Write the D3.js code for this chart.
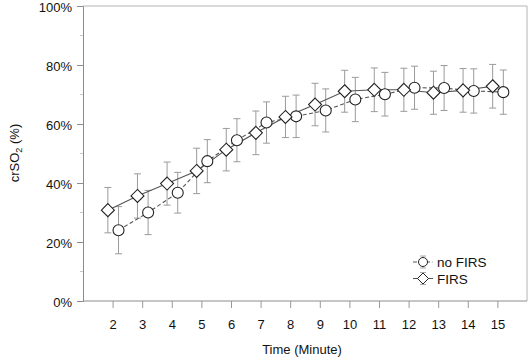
<!DOCTYPE html>
<html>
<head>
<meta charset="utf-8">
<script src="https://cdn.jsdelivr.net/npm/d3@7"></script>
<style>
  body { margin: 0; background: #fff; }
  text { font-family: "Liberation Sans", Arial, sans-serif; fill: #111; }
</style>
</head>
<body>
<svg id="chart" width="529" height="359"></svg>
<script>
// data
const minutes = [2, 3, 4, 5, 6, 7, 8, 9, 10, 11, 12, 13, 14, 15];
const noFirsMean = [24.0, 30.0, 36.7, 47.4, 54.5, 60.5, 62.6, 64.6, 68.3, 70.1, 72.3, 72.2, 71.2, 70.8];
const noFirsSD   = [8.0, 7.5, 6.9, 7.3, 7.3, 7.0, 7.2, 7.3, 7.5, 7.4, 7.3, 7.6, 7.5, 7.5];
const firsMean   = [30.8, 35.6, 39.8, 44.1, 51.3, 57.0, 62.4, 66.6, 71.1, 71.6, 71.6, 70.6, 71.4, 72.8];
const firsSD     = [7.7, 7.5, 7.3, 7.7, 7.2, 7.4, 7.0, 7.2, 7.1, 7.4, 7.3, 7.3, 7.4, 7.4];
const yTicks = [0, 20, 40, 60, 80, 100];
const yMinor = [10, 30, 50, 70, 90];

const svg = d3.select("#chart");
const x = d3.scaleLinear().domain([1, 16]).range([83, 527]);
const y = d3.scaleLinear().domain([0, 100]).range([301, 6]);

// series (dodged a little on x like the original)
const series = [
  {name: "no FIRS", mean: noFirsMean, sd: noFirsSD, dx: 0.2, dash: "4,2.5", shape: "circle"},
  {name: "FIRS", mean: firsMean, sd: firsSD, dx: -0.16, dash: null, shape: "diamond"}
];
series.forEach(s => {
  s.pts = minutes.map((m, i) => ({m: m + s.dx, v: s.mean[i], sd: s.sd[i]}));
});

// frame
svg.append("line").attr("x1", x(1)).attr("x2", x(16)).attr("y1", y(100)).attr("y2", y(100))
  .attr("stroke", "#b5b5b5");
svg.append("line").attr("x1", x(16)).attr("x2", x(16)).attr("y1", y(100)).attr("y2", y(0))
  .attr("stroke", "#b5b5b5");

// y axis
const yAxis = svg.append("g").attr("transform", `translate(${x(1)},0)`)
  .call(d3.axisLeft(y).tickValues(yTicks).tickSize(6).tickPadding(5).tickFormat(d => d + "%"));
yAxis.select(".domain").attr("stroke", "#8c8c8c");
yAxis.selectAll(".tick line").attr("stroke", "#8c8c8c");
yAxis.selectAll("text").style("font-size", "13px").attr("font-family", null).attr("dy", "0.42em");
svg.append("g").selectAll("line").data(yMinor).enter().append("line")
  .attr("x1", x(1) - 3).attr("x2", x(1))
  .attr("y1", d => y(d)).attr("y2", d => y(d))
  .attr("stroke", "#c8c8c8");

// x axis
const xAxis = svg.append("g").attr("transform", `translate(0,${y(0)})`)
  .call(d3.axisBottom(x).tickValues(minutes).tickSize(7).tickPadding(12).tickFormat(d3.format("d")));
xAxis.select(".domain").attr("stroke", "#8c8c8c").attr("d", `M${x(1)},0H${x(16)}`);
xAxis.selectAll(".tick line").attr("stroke", "#9a9a9a");
xAxis.selectAll("text").style("font-size", "13px").attr("font-family", null);

// axis titles
svg.append("text")
  .attr("x", (x(1) + x(16)) / 2 - 3).attr("y", 354)
  .attr("text-anchor", "middle").style("font-size", "13px")
  .text("Time (Minute)");
const yl = svg.append("text")
  .attr("transform", "translate(19,153) rotate(-90)")
  .attr("text-anchor", "middle").style("font-size", "13px");
yl.append("tspan").text("crSO");
yl.append("tspan").attr("dy", 3).style("font-size", "9px").text("2");
yl.append("tspan").attr("dy", -3).text(" (%)");

// error bars
series.forEach(s => {
  const g = svg.append("g").attr("stroke", "#9a9a9a").attr("stroke-width", 1);
  g.selectAll("line.bar").data(s.pts).enter().append("line")
    .attr("x1", d => x(d.m)).attr("x2", d => x(d.m))
    .attr("y1", d => y(d.v + d.sd)).attr("y2", d => y(d.v - d.sd));
  g.selectAll("line.capT").data(s.pts).enter().append("line")
    .attr("x1", d => x(d.m) - 3.5).attr("x2", d => x(d.m) + 3.5)
    .attr("y1", d => y(d.v + d.sd)).attr("y2", d => y(d.v + d.sd));
  g.selectAll("line.capB").data(s.pts).enter().append("line")
    .attr("x1", d => x(d.m) - 3.5).attr("x2", d => x(d.m) + 3.5)
    .attr("y1", d => y(d.v - d.sd)).attr("y2", d => y(d.v - d.sd));
});

// lines
const line = d3.line().x(d => x(d.m)).y(d => y(d.v));
series.forEach(s => {
  svg.append("path").datum(s.pts)
    .attr("d", line).attr("fill", "none")
    .attr("stroke", "#555").attr("stroke-width", 1.1)
    .attr("stroke-dasharray", s.dash);
});

// markers
const diamond = r => `M0,${-r}L${r},0L0,${r}L${-r},0Z`;
series.forEach(s => {
  const g = svg.append("g");
  if (s.shape === "circle") {
    g.selectAll("circle").data(s.pts).enter().append("circle")
      .attr("cx", d => x(d.m)).attr("cy", d => y(d.v)).attr("r", 5.5)
      .attr("fill", "#fff").attr("stroke", "#222").attr("stroke-width", 1.1);
  } else {
    g.selectAll("path").data(s.pts).enter().append("path")
      .attr("transform", d => `translate(${x(d.m)},${y(d.v)})`)
      .attr("d", diamond(6.5))
      .attr("fill", "#fff").attr("stroke", "#222").attr("stroke-width", 1.1);
  }
});

// legend
const legend = svg.append("g");
series.forEach((s, i) => {
  const cy = 262 + i * 16.5, cx = 423;
  const lg = legend.append("g");
  lg.append("line").attr("x1", cx - 10).attr("x2", cx + 10).attr("y1", cy).attr("y2", cy)
    .attr("stroke", "#555").attr("stroke-dasharray", s.dash);
  lg.append("line").attr("x1", cx).attr("x2", cx).attr("y1", cy - 6).attr("y2", cy + 6)
    .attr("stroke", "#aaa");
  [cy - 6, cy + 6].forEach(yy => lg.append("line")
    .attr("x1", cx - 3).attr("x2", cx + 3).attr("y1", yy).attr("y2", yy).attr("stroke", "#aaa"));
  if (s.shape === "circle") {
    lg.append("circle").attr("cx", cx).attr("cy", cy).attr("r", 4.5)
      .attr("fill", "#fff").attr("stroke", "#222");
  } else {
    lg.append("path").attr("transform", `translate(${cx},${cy})`).attr("d", diamond(5.5))
      .attr("fill", "#fff").attr("stroke", "#222");
  }
  lg.append("text").attr("x", cx + 14).attr("y", cy + 5)
    .style("font-size", "13.5px").text(s.name);
});
</script>
</body>
</html>
